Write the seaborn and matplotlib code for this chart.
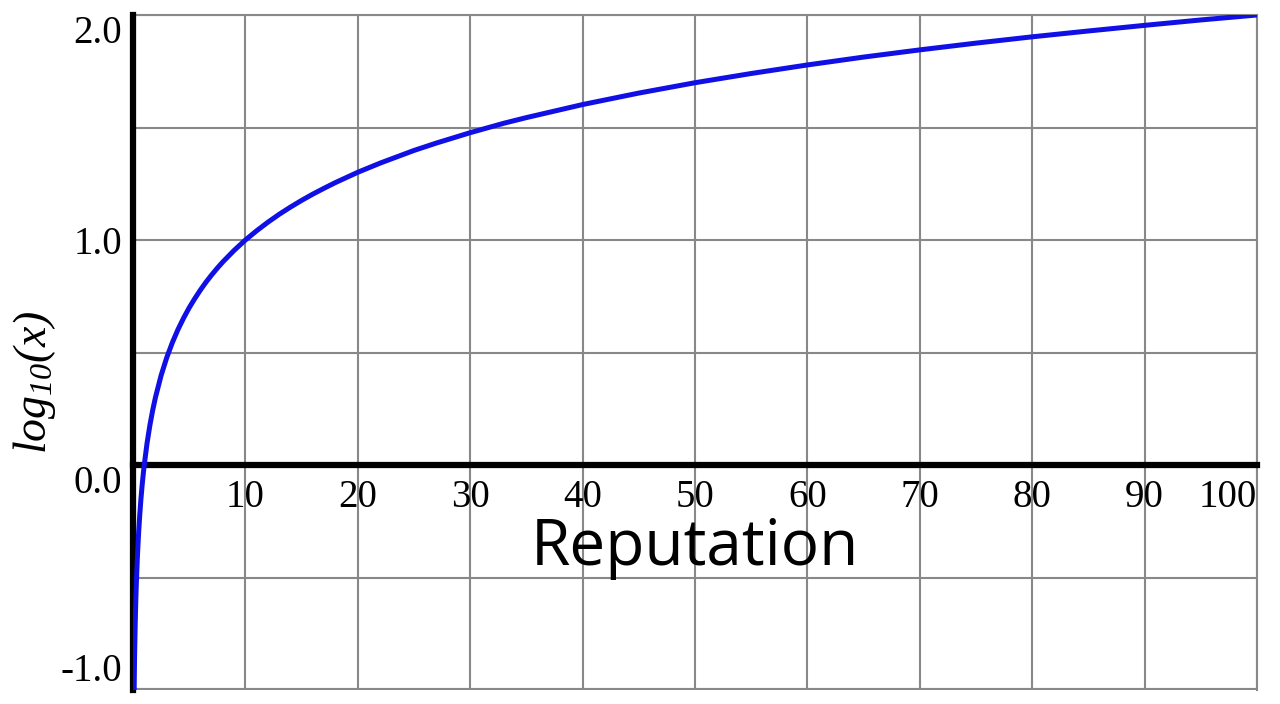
import matplotlib
matplotlib.use("Agg")
import matplotlib.pyplot as plt
import seaborn as sns
import pandas as pd

# curve (reputation -> log10 value)
reputation = [0.1, 0.12, 0.15, 0.2, 0.25, 0.3, 0.4, 0.5, 0.6, 0.7, 0.8, 0.9, 1, 1.25, 1.5, 1.75, 2,
              2.5, 3, 3.5, 4, 4.5, 5, 5.5, 6, 6.5, 7, 7.5, 8, 9, 10, 11, 12, 13, 14, 15, 16, 17,
              18, 20, 22, 25, 27, 30, 33, 35, 40, 45, 50, 55, 60, 65, 70, 75, 80, 85, 90, 95, 100]
log_value = [-1.0, -0.921, -0.824, -0.699, -0.602, -0.523, -0.398, -0.301, -0.222, -0.155, -0.097,
             -0.046, 0.0, 0.097, 0.176, 0.243, 0.301, 0.398, 0.477, 0.544, 0.602, 0.653, 0.699,
             0.740, 0.778, 0.813, 0.845, 0.875, 0.903, 0.954, 1.0, 1.041, 1.079, 1.114, 1.146,
             1.176, 1.204, 1.230, 1.255, 1.301, 1.342, 1.398, 1.431, 1.477, 1.519, 1.544, 1.602,
             1.653, 1.699, 1.740, 1.778, 1.813, 1.845, 1.875, 1.903, 1.929, 1.954, 1.978, 2.0]

x_ticks = [0, 10, 20, 30, 40, 50, 60, 70, 80, 90, 100]
x_labels = ['', '10', '20', '30', '40', '50', '60', '70', '80', '90', '100']
y_ticks = [-1.0, -0.5, 0.0, 0.5, 1.0, 1.5, 2.0]
y_labels = ['-1.0', '', '0.0', '', '1.0', '', '2.0']

df = pd.DataFrame({'reputation': reputation, 'log': log_value})

sns.set_style("white")
plt.rcParams['mathtext.fontset'] = 'custom'
plt.rcParams['mathtext.it'] = 'Liberation Serif:italic'
plt.rcParams['mathtext.rm'] = 'Liberation Serif:italic'

fig, ax = plt.subplots(figsize=(12.8, 7.04), dpi=100)
fig.subplots_adjust(left=133 / 1280, right=1257 / 1280, top=1 - 15 / 704, bottom=1 - 690 / 704)

sns.lineplot(data=df, x='reputation', y='log', estimator=None, sort=False,
             color='#1010e6', linewidth=3.6, ax=ax, zorder=5, solid_joinstyle='round')

ax.set_xlim(0, 100)
ax.set_ylim(-1, 2)
ax.set_xticks(x_ticks)
ax.set_xticklabels(x_labels)
ax.set_yticks(y_ticks)
ax.set_yticklabels(y_labels)
ax.grid(True, color='#888888', linewidth=1.5)

# thick axes through the origin
ax.spines['bottom'].set_position(('data', 0))
ax.spines['bottom'].set_linewidth(4.5)
ax.spines['bottom'].set_color('black')
ax.spines['bottom'].set_zorder(4)
ax.spines['left'].set_linewidth(4.5)
ax.spines['left'].set_color('black')
ax.spines['left'].set_zorder(4)
for side in ['top', 'right']:
    ax.spines[side].set_color('#888888')
    ax.spines[side].set_linewidth(1.5)
ax.axhline(-1, color='#888888', linewidth=3)

ax.tick_params(axis='x', length=0, pad=10, labelsize=28, labelcolor='black')
ax.tick_params(axis='y', length=0, pad=8, labelsize=28, labelcolor='black')
for lab in ax.get_xticklabels() + ax.get_yticklabels():
    lab.set_fontfamily('Liberation Serif')
ax.get_xticklabels()[-1].set_ha('right')
ylabs = ax.get_yticklabels()
ylabs[-1].set_va('top')
ylabs[2].set_va('top')
ylabs[0].set_va('bottom')

ax.set_xlabel('')
ax.set_ylabel('')
fig.text(35 / 1280, 1 - 382 / 704, r'$log_{10}(x)$',
         rotation=90, ha='center', va='center', fontsize=33, color='black')
ax.text(50, -0.37, 'Reputation', fontfamily='Open Sans', fontsize=46,
        ha='center', va='center', color='black', zorder=6)

fig.savefig('out.png', dpi=100)
